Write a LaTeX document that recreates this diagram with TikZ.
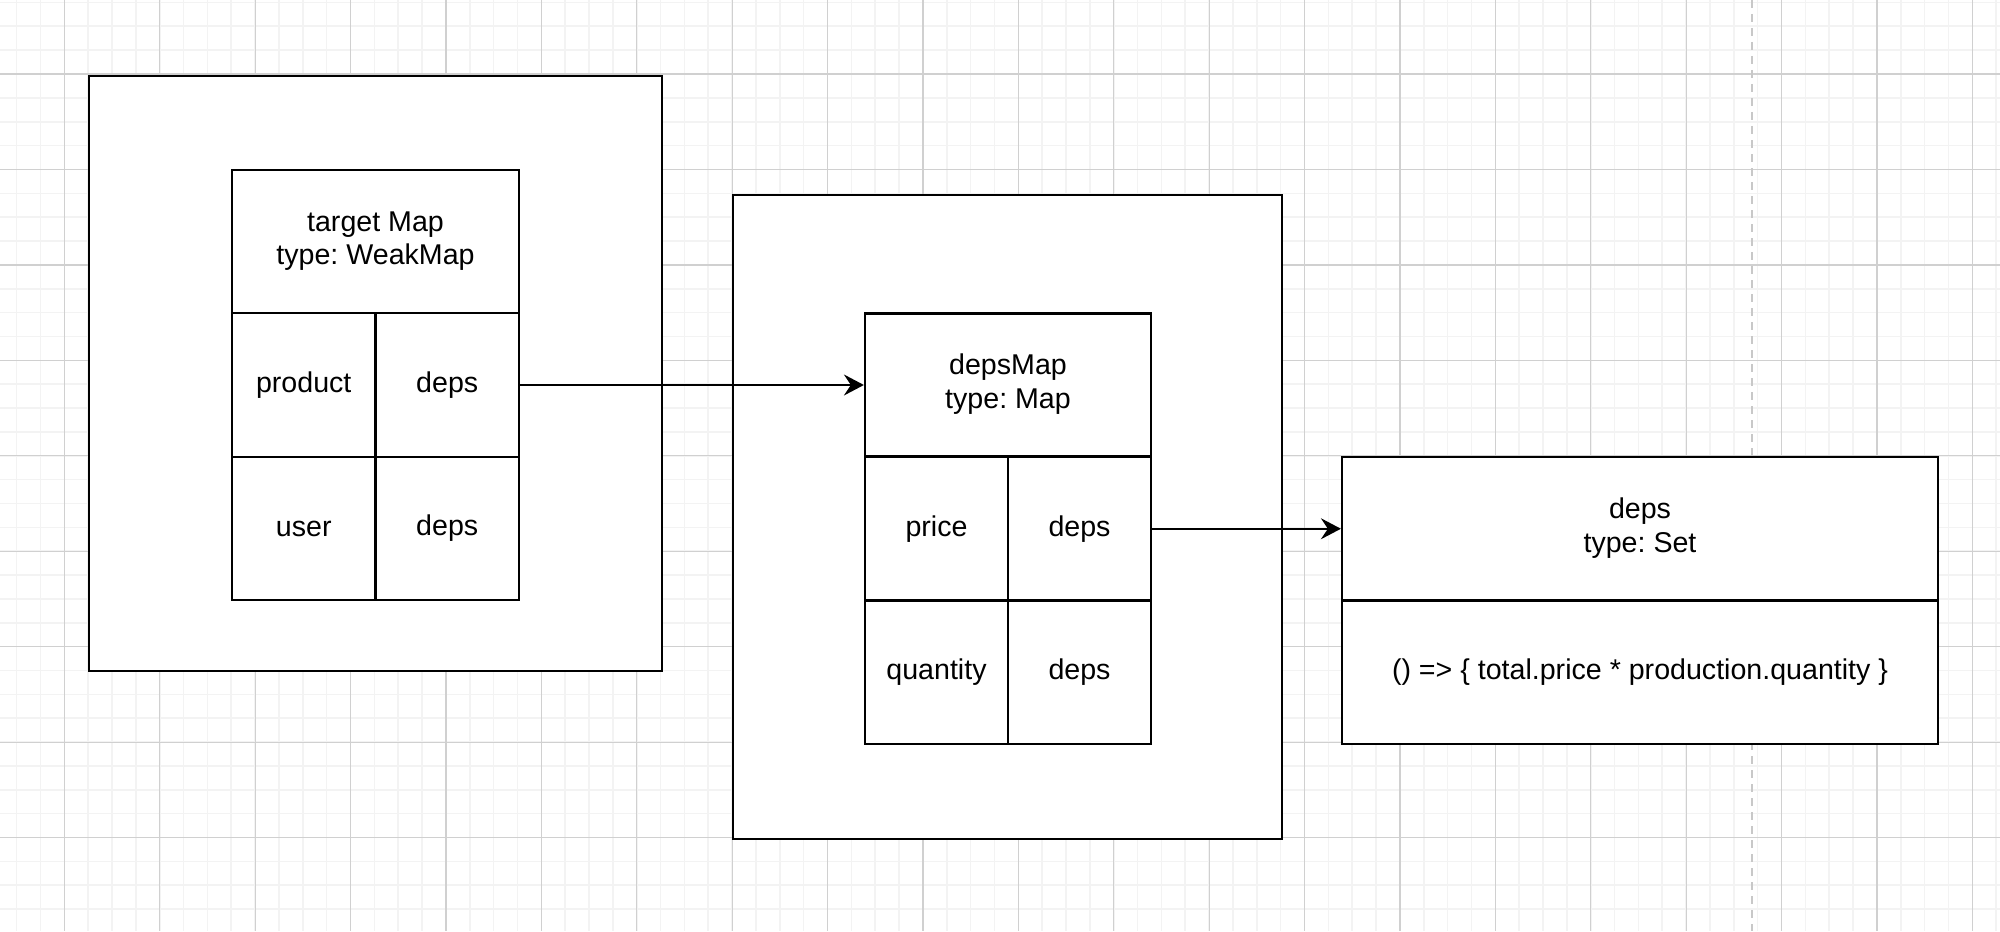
\documentclass[tikz,border=0pt]{standalone}
\usepackage{fontspec}
\setmainfont{Liberation Sans}
\usetikzlibrary{arrows.meta}
\definecolor{gridminor}{RGB}{243,243,243}
\definecolor{gridmajor}{RGB}{208,208,208}
\definecolor{pagebreak}{RGB}{200,200,200}
\newcommand\oneline[1]{\raisebox{-1.5pt}{#1}}
\newcommand\twoline[2]{\raisebox{-2.6pt}{\begin{tabular}{@{}c@{}}#1\\#2\end{tabular}}}
\begin{document}
\begin{tikzpicture}[x=0.5pt,y=-0.5pt,
  box/.style={draw=black, line width=1.1pt, fill=white, inner sep=0pt, align=center,
    font=\fontsize{14.3}{16.75}\selectfont\frenchspacing},
  arrow/.style={draw=black, line width=1pt, -{Stealth[length=10pt,width=10.5pt,inset=3.5pt]}},
  minorline/.style={draw=gridminor, line width=0.8pt},
  majorline/.style={draw=gridmajor, line width=0.6pt}]
\useasboundingbox (0,0) rectangle (2000,931);
\fill[white] (0,0) rectangle (2000,931);
\begin{scope}
\clip (0,0) rectangle (2000,931);
\foreach \i in {-3,...,81} \draw[minorline] ({64.3+\i*23.85},0) -- ({64.3+\i*23.85},931);
\foreach \j in {-4,...,37} \draw[minorline] (0,{74+\j*23.86}) -- (2000,{74+\j*23.86});
\foreach \i in {-1,...,20} \draw[majorline] ({64.3+\i*95.4},0) -- ({64.3+\i*95.4},931);
\foreach \j in {-1,...,9} \draw[majorline] (0,{74+\j*95.45}) -- (2000,{74+\j*95.45});
\draw[pagebreak, line width=1pt, dash pattern=on 4pt off 3pt] (1751.7,0) -- (1751.7,931);
\end{scope}

% outer containers
\node[box, minimum width=286.5pt, minimum height=297.5pt] (o1) at (375.5,373.5) {};
\node[box, minimum width=274.5pt, minimum height=322pt] (o2) at (1007.5,517) {};

% target Map table
\node[box, minimum width=143.5pt, minimum height=71.5pt] (t1h) at (375.5,241.5) {\twoline{target Map}{type: WeakMap}};
\node[box, minimum width=71.75pt, minimum height=72pt] (t1a) at (303.75,385) {\oneline{product}};
\node[box, minimum width=71.75pt, minimum height=72pt] (t1b) at (447.25,385) {\oneline{deps}};
\node[box, minimum width=71.75pt, minimum height=71.5pt] (t1c) at (303.75,528.5) {\oneline{user}};
\node[box, minimum width=71.75pt, minimum height=71.5pt] (t1d) at (447.25,528.5) {\oneline{deps}};

% depsMap table
\node[box, minimum width=143pt, minimum height=71.5pt] (t2h) at (1008,385) {\twoline{depsMap}{type: Map}};
\node[box, minimum width=71.5pt, minimum height=71.75pt] (t2a) at (936.5,528.75) {\oneline{price}};
\node[box, minimum width=71.5pt, minimum height=71.75pt] (t2b) at (1079.5,528.75) {\oneline{deps}};
\node[box, minimum width=71.5pt, minimum height=71.75pt] (t2c) at (936.5,672.25) {\oneline{quantity}};
\node[box, minimum width=71.5pt, minimum height=71.75pt] (t2d) at (1079.5,672.25) {\oneline{deps}};

% deps set
\node[box, minimum width=298pt, minimum height=71.75pt] (dh) at (1640,528.75) {\twoline{deps}{type: Set}};
\node[box, minimum width=298pt, minimum height=71.75pt] (db) at (1640,672.25) {\oneline{() => \{ total.price * production.quantity \}}};

% connectors
\draw[arrow] (t1b.east) -- (t2h.west);
\draw[arrow, line width=0.8pt] (t2b.east) -- (dh.west);
\end{tikzpicture}
\end{document}
